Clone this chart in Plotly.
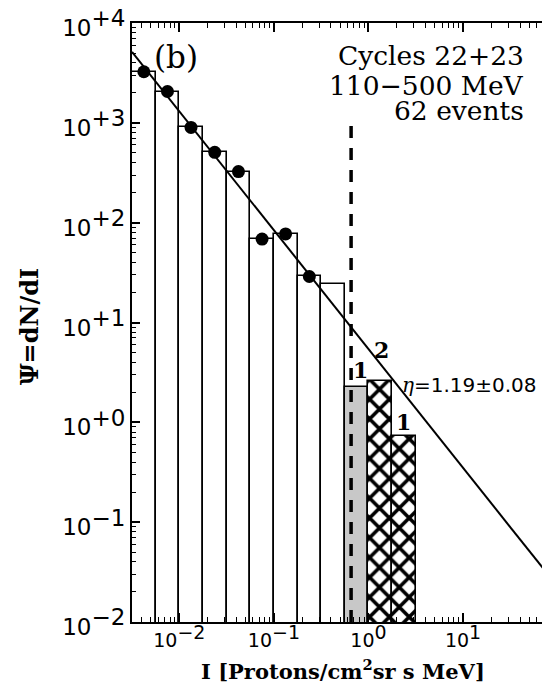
import math
import plotly.graph_objects as go

# ---- data ----
# quarter-decade intensity bins (protons / cm2 sr s MeV)
bin_lo = [0.00316, 0.00562, 0.0100, 0.0178, 0.0316, 0.0562, 0.100, 0.178, 0.316, 0.562, 1.00, 1.78]
bin_hi = [0.00562, 0.0100, 0.0178, 0.0316, 0.0562, 0.100, 0.178, 0.316, 0.562, 1.00, 1.78, 3.16]
# Psi = dN/dI for each bin
psi = [3250, 2060, 899, 506, 325, 68.5, 77.1, 28.9, 24.4, 2.28, 2.57, 0.723]
bar_style = ["open", "open", "open", "open", "open", "open", "open", "open", "open",
             "gray", "hatch", "hatch"]
# filled dots (bin centres) for the first 8 bins
dot_I = [0.00422, 0.00750, 0.0133, 0.0237, 0.0422, 0.0750, 0.133, 0.237]
dot_psi = [3250, 2060, 899, 506, 325, 68.5, 77.1, 28.9]
# power-law fit line end points (eta = 1.19)
fit_I = [0.00316, 100.0]
fit_psi = [5130, 0.0226]
# dashed threshold line
thr_I = [0.655, 0.655]
thr_psi = [0.01, 1000]
# event-count labels above the last three bars
count_labels = ["1", "2", "1"]
count_bins = [9, 10, 11]

x_tickvals = [0.01, 0.1, 1, 10]
x_exps = ["\u22122", "\u22121", "0", "1"]
y_tickvals = [1e-2, 1e-1, 1e0, 1e1, 1e2, 1e3, 1e4]
y_exps = ["\u22122", "\u22121", "+0", "+1", "+2", "+3", "+4"]

XFS = 19
YFS = 23
x_ticktext = ["10<sup><span style='font-size:%dpx'>%s</span></sup>" % (XFS, e) for e in x_exps]
y_ticktext = ["10<sup><span style='font-size:%dpx'>%s</span></sup>" % (YFS, e) for e in y_exps]

minor_x = [k * 10.0 ** e for e in range(-3, 2) for k in range(2, 10)]
minor_y = [k * 10.0 ** e for e in range(-2, 4) for k in range(2, 10)]

fig = go.Figure()

styles = {
    "open": dict(color="white"),
    "gray": dict(color="#c8c8c8"),
    "hatch": dict(color="white", pattern=dict(shape="x", size=14, solidity=0.45,
                                              fgcolor="black", fgopacity=1,
                                              bgcolor="white")),
}
for kind in ["open", "gray", "hatch"]:
    idx = [i for i, s in enumerate(bar_style) if s == kind]
    xs = [(bin_lo[i] + bin_hi[i]) / 2 for i in idx]
    ws = [bin_hi[i] - bin_lo[i] for i in idx]
    ys = [psi[i] for i in idx]
    fig.add_trace(go.Bar(x=xs, y=ys, width=ws,
                         marker=dict(**styles[kind], line=dict(color="black", width=1.6)),
                         hoverinfo="skip"))

fig.add_trace(go.Scatter(x=thr_I, y=thr_psi, mode="lines",
                         line=dict(color="black", width=3.5, dash="12px,10px")))
fig.add_trace(go.Scatter(x=fit_I, y=fit_psi, mode="lines", yaxis="y2",
                         line=dict(color="black", width=2)))
fig.add_trace(go.Scatter(x=dot_I, y=dot_psi, mode="markers",
                         marker=dict(color="black", size=13)))

# count labels above the last three bars (log-axis annotation coordinates)
shifts = [(4, 17), (1.5, 31), (0, 14)]
for lab, i, (dx, dy) in zip(count_labels, count_bins, shifts):
    fig.add_annotation(x=math.log10((bin_lo[i] * bin_hi[i]) ** 0.5), y=math.log10(psi[i]),
                       text="<b>%s</b>" % lab, showarrow=False, xanchor="center", yanchor="middle",
                       xshift=dx, yshift=dy,
                       font=dict(family="DejaVu Serif", size=22, color="black"))

serif = "DejaVu Serif"
fig.add_annotation(x=0.105, y=0.944, xref="paper", yref="paper", text="(b)",
                   showarrow=False, xanchor="center", yanchor="middle",
                   font=dict(family=serif, size=31, color="black"))
for txt, yp in [("Cycles 22+23", 0.9455), ("110\u2212500 MeV", 0.896), ("62 events", 0.8535)]:
    fig.add_annotation(x=0.9427, y=yp, xref="paper", yref="paper", text=txt,
                       showarrow=False, xanchor="right", yanchor="middle",
                       font=dict(family=serif, size=26.5, color="black"))
fig.add_annotation(x=0.642, y=0.3957, xref="paper", yref="paper",
                   text="<span style='font-family:DejaVu Serif'><i>\u03b7</i></span>=1.19\u00b10.08",
                   showarrow=False, xanchor="left", yanchor="middle",
                   font=dict(family="DejaVu Sans", size=20, color="black"))
fig.add_annotation(x=-0.2458, y=0.494, xref="paper", yref="paper",
                   text="<b>\u03a8=dN/dI</b>", textangle=-90, showarrow=False,
                   xanchor="center", yanchor="middle",
                   font=dict(family=serif, size=24, color="black"))
fig.add_annotation(x=0.5036, y=-0.080, xref="paper", yref="paper",
                   text="<b>I [Protons/cm<sup>2</sup>sr s MeV]</b>", showarrow=False,
                   xanchor="center", yanchor="middle",
                   font=dict(family=serif, size=21, color="black"))

# the page body adds an 8px margin, so the figure is 8px smaller than the window
fig.update_layout(
    width=542, height=678,
    margin=dict(l=124, r=0, t=15, b=64),
    plot_bgcolor="white", paper_bgcolor="white",
    showlegend=False, barmode="overlay", bargap=0,
    xaxis=dict(type="log", range=[-2.5, 1.919], showgrid=False, zeroline=False,
               showline=True, linecolor="black", linewidth=2, mirror="ticks",
               ticks="inside", ticklen=9, tickwidth=1.5, tickcolor="black",
               tickvals=x_tickvals, ticktext=x_ticktext, ticklabeloverflow="allow",
               tickfont=dict(family="DejaVu Sans", size=XFS, color="black"),
               minor=dict(ticks="inside", ticklen=5, tickwidth=1.2, tickcolor="black",
                          tickvals=minor_x, showgrid=False),
               automargin=False),
    yaxis=dict(type="log", range=[-2, 4], showgrid=False, zeroline=False,
               showline=True, linecolor="black", linewidth=2, mirror=False,
               ticks="inside", ticklen=8, tickwidth=1.5, tickcolor="black",
               tickvals=y_tickvals, ticktext=y_ticktext, ticklabeloverflow="allow",
               ticklabelshift=5,
               tickfont=dict(family="DejaVu Sans", size=YFS, color="black"),
               minor=dict(ticks="inside", ticklen=4, tickwidth=1.2, tickcolor="black",
                          tickvals=minor_y, showgrid=False),
               automargin=False),
    yaxis2=dict(type="log", range=[-2, 4], overlaying="y", side="right", anchor="x",
                showgrid=False, zeroline=False, showline=False,
                ticks="inside", ticklen=3, tickwidth=1.5, tickcolor="black",
                tickvals=y_tickvals, showticklabels=False, automargin=False),
)

fig.write_html("out.html")
